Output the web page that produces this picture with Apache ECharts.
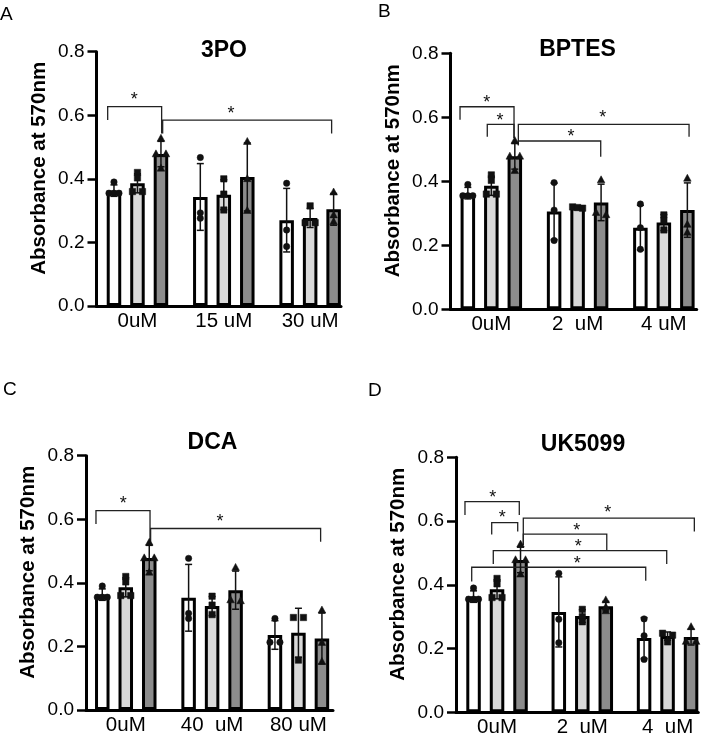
<!DOCTYPE html>
<html><head><meta charset="utf-8">
<script src="https://cdn.jsdelivr.net/npm/echarts@6/dist/echarts.min.js"></script>
<style>html,body{margin:0;padding:0;background:#fff}#c{width:709px;height:735px}</style>
</head><body><div id="c"></div>
<script>
// ---------- DATA ----------
const PANEL_LETTERS = ['A', 'B', 'C', 'D'];
const PANEL_TITLES = ['3PO', 'BPTES', 'DCA', 'UK5099'];
const Y_NAME = 'Absorbance at 570nm';
const Y_MIN = 0, Y_MAX = 0.8, Y_STEP = 0.2;

// shared 0uM control: [white, light, dark]
const CTRL_MEAN = [0.363, 0.386, 0.478];
const CTRL_SD = [0.018, 0.03, 0.04];
const CTRL_PTS = [[0.39, 0.355, 0.355, 0.355], [0.42, 0.403, 0.36, 0.36], [0.527, 0.478, 0.478, 0.433]];

// A: 3PO
const A_CATS = ['0uM', '15 uM', '30 uM'];
const A_MEAN = [CTRL_MEAN, [0.343, 0.35, 0.406], [0.27, 0.277, 0.304]];
const A_SD = [CTRL_SD, [0.105, 0.047, 0.107], [0.1, 0.03, 0.05]];
const A_PTS = [CTRL_PTS,
  [[0.467, 0.293, 0.276], [0.40, 0.352, 0.302], [0.517, 0.40, 0.30]],
  [[0.386, 0.239, 0.187], [0.315, 0.262, 0.262], [0.358, 0.286, 0.265]]];
const A_BRACKETS = [[-0.345, 0.28, 0.627, 0.585, 0.543], [0.292, 2.249, 0.585, 0.543, 0.543]];
const A_STARS = [[-0.037, 0.66], [1.083, 0.616]];

// B: BPTES
const B_CATS = ['0uM', '2  uM', '4 uM'];
const B_MEAN = [CTRL_MEAN, [0.306, 0.318, 0.334], [0.255, 0.271, 0.31]];
const B_SD = [CTRL_SD, [0.088, 0.003, 0.057], [0.07, 0.025, 0.085]];
const B_PTS = [CTRL_PTS,
  [[0.396, 0.31, 0.215], [0.32, 0.318, 0.316], [0.404, 0.302, 0.295]],
  [[0.329, 0.255, 0.1875], [0.295, 0.277, 0.248], [0.409, 0.265, 0.24]]];
const B_BRACKETS = [[-0.363, 0.263, 0.633, 0.592, 0.535], [-0.047, 0.263, 0.578, 0.539, 0.535],
  [0.313, 2.292, 0.578, 0.513, 0.539], [0.313, 1.268, 0.526, 0.513, 0.477]];
const B_STARS = [[-0.054, 0.656], [0.101, 0.602], [1.291, 0.609], [0.924, 0.55]];

// C: DCA
const C_CATS = ['0uM', '40  uM', '80 uM'];
const C_MEAN = [CTRL_MEAN, [0.353, 0.327, 0.377], [0.236, 0.243, 0.225]];
const C_SD = [CTRL_SD, [0.105, 0.03, 0.06], [0.045, 0.077, 0.08]];
const C_PTS = [CTRL_PTS,
  [[0.477, 0.304, 0.288], [0.358, 0.33, 0.3], [0.448, 0.346, 0.343]],
  [[0.288, 0.213, 0.213], [0.291, 0.291, 0.157], [0.314, 0.212, 0.152]]];
const C_BRACKETS = [[-0.345, 0.281, 0.627, 0.585, 0.53], [0.288, 2.257, 0.571, 0.53, 0.529]];
const C_STARS = [[-0.029, 0.66], [1.091, 0.603]];

// D: UK5099
const D_CATS = ['0uM', '2  uM', '4  uM'];
const D_MEAN = [CTRL_MEAN, [0.315, 0.302, 0.333], [0.233, 0.239, 0.236]];
const D_SD = [CTRL_SD, [0.11, 0.02, 0.015], [0.064, 0.013, 0.025]];
const D_PTS = [CTRL_PTS,
  [[0.436, 0.292, 0.218], [0.323, 0.3, 0.284], [0.352, 0.33, 0.318]],
  [[0.293, 0.24, 0.166], [0.248, 0.242, 0.221], [0.268, 0.222, 0.222]]];
const D_BRACKETS = [[-0.376, 0.261, 0.661, 0.619, 0.619], [-0.0625, 0.2425, 0.595, 0.558, 0.567],
  [0.308, 2.314, 0.609, 0.525, 0.567], [0.308, 1.287, 0.559, 0.525, 0.507],
  [-0.044, 1.99, 0.507, 0.465, 0.465], [-0.297, 1.744, 0.455, 0.41, 0.413]];
const D_STARS = [[-0.051, 0.684], [0.062, 0.621], [1.298, 0.638], [0.935, 0.58], [0.953, 0.532], [0.942, 0.478]];

// ---------- STYLE / LAYOUT ----------
const FONT = '"Liberation Sans", Arial, sans-serif';
const BAR_W = 14.5, BAR_GAP = 0.62, SPACING = BAR_W * (1 + BAR_GAP);
const COLORS = ['#ffffff', '#d9d9d9', '#8c8c8c'];
const CAP = 3.5;
const LAYOUT = [
  {band: {left: 94.3, top: 51.7, width: 259, height: 254.3}, axisLeft: 96.5, axisW: 244.5, title: [224, 50.8], letter: [0, 14.5]},
  {band: {left: 448.2, top: 53.3, width: 258.8, height: 256}, axisLeft: 450.5, axisW: 246.2, title: [577.5, 49.2], letter: [378, 11.7]},
  {band: {left: 82.6, top: 455.7, width: 259, height: 254.3}, axisLeft: 86, axisW: 247, title: [212.5, 442.5], letter: [3, 390]},
  {band: {left: 454.4, top: 457.3, width: 255.8, height: 255}, axisLeft: 456, axisW: 242.3, title: [583, 444.2], letter: [368, 390.8]}
];
const TITLE_FS = 23, LETTER_FS = 19;

const panels = [
  {cats: A_CATS, mean: A_MEAN, sd: A_SD, pts: A_PTS, br: A_BRACKETS, stars: A_STARS},
  {cats: B_CATS, mean: B_MEAN, sd: B_SD, pts: B_PTS, br: B_BRACKETS, stars: B_STARS},
  {cats: C_CATS, mean: C_MEAN, sd: C_SD, pts: C_PTS, br: C_BRACKETS, stars: C_STARS},
  {cats: D_CATS, mean: D_MEAN, sd: D_SD, pts: D_PTS, br: D_BRACKETS, stars: D_STARS}
];

function jitter(vals) {
  const sorted = vals.slice().sort((a, b) => b - a);
  const out = [];
  let i = 0;
  while (i < sorted.length) {
    let j = i + 1;
    while (j < sorted.length && sorted[j - 1] - sorted[j] < 0.012) j++;
    const k = j - i;
    const offs = k === 1 ? [0] : k === 2 ? [-5, 5] : k === 3 ? [-5, 0, 5] : [-6, -2, 2, 6];
    for (let t = 0; t < k; t++) out.push([sorted[i + t], offs[t] || 0]);
    i = j;
  }
  return out;
}
function marker(s, x, y) {
  const st = {fill: '#111', stroke: '#111', lineWidth: 0.5};
  if (s === 0) return {type: 'circle', shape: {cx: x, cy: y, r: 3.2}, style: st};
  if (s === 1) return {type: 'rect', shape: {x: x - 3.2, y: y - 3.2, width: 6.4, height: 6.4}, style: st};
  return {type: 'polygon', shape: {points: [[x, y - 4.2], [x + 3.8, y + 2.8], [x - 3.8, y + 2.8]]}, style: st};
}

const option = {animation: false, backgroundColor: '#fff', title: [], grid: [], xAxis: [], yAxis: [], series: []};

panels.forEach((p, k) => {
  const L = LAYOUT[k];
  const gi0 = 2 * k, gi1 = 2 * k + 1;
  option.title.push({text: PANEL_TITLES[k], left: L.title[0], top: L.title[1] - TITLE_FS / 2, textAlign: 'center', padding: 0,
    textStyle: {fontSize: TITLE_FS, fontWeight: 'bold', color: '#000', fontFamily: FONT}});
  option.title.push({text: PANEL_LETTERS[k], left: L.letter[0], top: L.letter[1] - LETTER_FS / 2, padding: 0,
    textStyle: {fontSize: LETTER_FS, fontWeight: 'normal', color: '#000', fontFamily: FONT}});
  option.grid.push(Object.assign({containLabel: false, outerBoundsMode: 'none'}, L.band));
  option.grid.push({left: L.axisLeft, top: L.band.top, width: L.axisW, height: L.band.height, containLabel: false, outerBoundsMode: 'none'});
  option.xAxis.push({gridIndex: gi0, type: 'category', data: p.cats, boundaryGap: true,
    axisLine: {show: false}, axisTick: {show: false}, splitLine: {show: false},
    axisLabel: {margin: 5, fontSize: 20.5, color: '#000', fontFamily: FONT, interval: 0}});
  option.yAxis.push({gridIndex: gi0, type: 'value', min: Y_MIN, max: Y_MAX, interval: Y_STEP, show: false});
  option.xAxis.push({gridIndex: gi1, type: 'value', min: 0, max: 1,
    axisLine: {show: true, onZero: false, lineStyle: {color: '#000', width: 3}},
    axisTick: {show: false}, axisLabel: {show: false}, splitLine: {show: false}});
  option.yAxis.push({gridIndex: gi1, type: 'value', min: Y_MIN, max: Y_MAX, interval: Y_STEP,
    axisLine: {show: true, onZero: false, lineStyle: {color: '#000', width: 3}},
    axisTick: {show: true, length: 9, lineStyle: {color: '#000', width: 2.5}},
    axisLabel: {margin: 12, fontSize: 19, color: '#000', fontFamily: FONT, formatter: v => v.toFixed(1)},
    splitLine: {show: false},
    name: Y_NAME, nameLocation: 'middle', nameGap: 47, nameMoveOverlap: false,
    nameTextStyle: {fontSize: 20.5, fontWeight: 'bold', color: '#000', fontFamily: FONT, padding: [0, 0, 0, 21]}});

  for (let s = 0; s < 3; s++) {
    option.series.push({type: 'bar', xAxisIndex: gi0, yAxisIndex: gi0, silent: true, z: 2,
      data: p.mean.map(g => g[s]), barWidth: BAR_W, barGap: (BAR_GAP * 100) + '%',
      itemStyle: {color: COLORS[s], borderColor: '#000', borderWidth: 3}});
  }
  const dotData = [];
  p.mean.forEach((g, gi) => g.forEach(m => dotData.push([gi, m])));
  option.series.push({type: 'custom', xAxisIndex: gi0, yAxisIndex: gi0, silent: true, z: 5, data: dotData,
    renderItem: (params, api) => {
      const idx = params.dataIndex, gi = Math.floor(idx / 3), si = idx % 3;
      const m = p.mean[gi][si], sd = p.sd[gi][si];
      const cx = api.coord([gi, 0])[0] + (si - 1) * SPACING;
      const yT = api.coord([gi, m + sd])[1], yB = api.coord([gi, m - sd])[1];
      const ls = {stroke: '#111', lineWidth: 1.5};
      const children = [
        {type: 'line', shape: {x1: cx, y1: yT, x2: cx, y2: yB}, style: ls},
        {type: 'line', shape: {x1: cx - CAP, y1: yT, x2: cx + CAP, y2: yT}, style: ls},
        {type: 'line', shape: {x1: cx - CAP, y1: yB, x2: cx + CAP, y2: yB}, style: ls}
      ];
      jitter(p.pts[gi][si]).forEach(([v, dx]) => children.push(marker(si, cx + dx, api.coord([gi, v])[1])));
      return {type: 'group', children};
    }});
  option.series.push({type: 'custom', xAxisIndex: gi0, yAxisIndex: gi0, silent: true, z: 4,
    data: p.br.map(b => [0, b[2]]),
    renderItem: (params, api) => {
      const b = p.br[params.dataIndex];
      const x0 = api.coord([0, 0])[0], bw = api.size([1, 0])[0];
      const X = u => x0 + u * bw, Y = v => api.coord([0, v])[1];
      return {type: 'polyline', shape: {points: [[X(b[0]), Y(b[3])], [X(b[0]), Y(b[2])], [X(b[1]), Y(b[2])], [X(b[1]), Y(b[4])]]},
        style: {stroke: '#222', lineWidth: 1.3, fill: 'none'}};
    }});
  option.series.push({type: 'custom', xAxisIndex: gi0, yAxisIndex: gi0, silent: true, z: 4,
    data: p.stars.map(s => [0, s[1]]),
    renderItem: (params, api) => {
      const s = p.stars[params.dataIndex];
      const x0 = api.coord([0, 0])[0], bw = api.size([1, 0])[0];
      return {type: 'text', style: {text: '*', x: x0 + s[0] * bw, y: api.coord([0, s[1]])[1] + 4,
        align: 'center', verticalAlign: 'middle', font: '18px ' + FONT, fill: '#111'}};
    }});
});

const chart = echarts.init(document.getElementById('c'), null, {renderer: 'canvas'});
chart.setOption(option);
</script>
</body></html>
